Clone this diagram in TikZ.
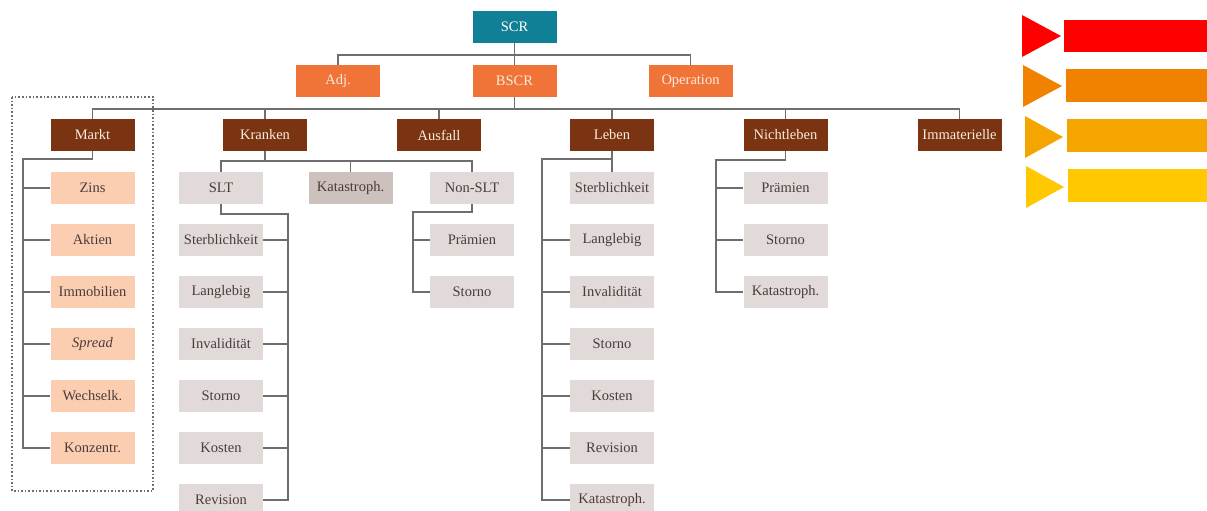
\documentclass[tikz,border=0pt]{standalone}
\usepackage{fontspec}
\setmainfont{Liberation Serif}
\definecolor{cteal}{RGB}{16,128,150}
\definecolor{corange}{RGB}{240,115,55}
\definecolor{cbrown}{RGB}{122,52,18}
\definecolor{cpeach}{RGB}{251,206,178}
\definecolor{cgrey}{RGB}{226,218,217}
\definecolor{cdgrey}{RGB}{205,193,190}
\definecolor{ctext}{RGB}{75,60,60}
\definecolor{ccream}{RGB}{250,236,222}
\definecolor{cline}{RGB}{110,110,110}
\definecolor{ar1}{RGB}{255,0,0}
\definecolor{ar2}{RGB}{240,130,0}
\definecolor{ar3}{RGB}{245,165,0}
\definecolor{ar4}{RGB}{255,200,0}
\tikzset{
  box/.style={minimum width=84pt, minimum height=32pt, inner sep=0pt, font=\fontsize{14.5}{16}\selectfont},
  topbox/.style={box, fill=cteal, text=white},
  orbox/.style={box, fill=corange, text=ccream},
  brbox/.style={box, fill=cbrown, text=ccream},
  pebox/.style={box, fill=cpeach, text=ctext},
  grbox/.style={box, fill=cgrey, text=ctext},
  dgbox/.style={box, fill=cdgrey, text=ctext},
  conn/.style={draw=cline, line width=1.5pt},
}
\begin{document}
\begin{tikzpicture}[x=1pt,y=-1pt]
\useasboundingbox (0,0) rectangle (1207,511);
% top
\node[topbox] (scr) at (514.5,27) {SCR};
\node[orbox] (adj) at (338,81) {Adj.};
\node[orbox] (bscr) at (514.5,81) {BSCR};
\node[orbox] (op) at (690.5,81) {Operation};
% categories
\node[brbox] (markt) at (92.5,135) {Markt};
\node[brbox] (kranken) at (265,135) {Kranken};
\node[brbox] (ausfall) at (439,135) {Ausfall};
\node[brbox] (leben) at (612,135) {Leben};
\node[brbox] (nleben) at (785.5,135) {Nichtleben};
\node[brbox] (immat) at (959.5,135) {Immaterielle};
% Markt children
\node[pebox] (m1) at (92.5,188) {Zins};
\node[pebox] (m2) at (92.5,240) {Aktien};
\node[pebox] (m3) at (92.5,292) {Immobilien};
\node[pebox] (m4) at (92.5,344) {\itshape Spread};
\node[pebox] (m5) at (92.5,396) {Wechselk.};
\node[pebox] (m6) at (92.5,448) {Konzentr.};
% Kranken
\node[grbox] (slt) at (221,188) {SLT};
\node[dgbox] (katk) at (350.5,188) {Katastroph.};
\node[grbox] (nonslt) at (472,188) {Non-SLT};
\node[grbox] (s1) at (221,240) {Sterblichkeit};
\node[grbox] (s2) at (221,292) {Langlebig};
\node[grbox] (s3) at (221,344) {Invalidität};
\node[grbox] (s4) at (221,396) {Storno};
\node[grbox] (s5) at (221,448) {Kosten};
\node[grbox] (s6) at (221,500) {Revision};
\node[grbox] (n1) at (472,240) {Prämien};
\node[grbox] (n2) at (472,292) {Storno};
% Leben
\node[grbox] (l1) at (612,188) {Sterblichkeit};
\node[grbox] (l2) at (612,240) {Langlebig};
\node[grbox] (l3) at (612,292) {Invalidität};
\node[grbox] (l4) at (612,344) {Storno};
\node[grbox] (l5) at (612,396) {Kosten};
\node[grbox] (l6) at (612,448) {Revision};
\node[grbox] (l7) at (612,500) {Katastroph.};
% Nichtleben
\node[grbox] (nl1) at (785.5,188) {Prämien};
\node[grbox] (nl2) at (785.5,240) {Storno};
\node[grbox] (nl3) at (785.5,292) {Katastroph.};
% dotted frame
\draw[cline, dotted, line width=1.6pt] (12,97) rectangle (153,491);
% connectors top
\draw[conn] (scr.south) -- (bscr.north);
\draw[conn] (adj.north) -- ++(0,-10) -| (op.north);
\draw[conn] (bscr.south) -- ++(0,12);
\draw[conn] (markt.north) -- ++(0,-10) -| (immat.north);
\foreach \n in {kranken,ausfall,leben,nleben} \draw[conn] (\n.north) -- ++(0,-10);
% Markt
\coordinate (mr) at (23,159);
\draw[conn] (markt.south) |- (mr) |- (m6.west);
\foreach \n in {m1,m2,m3,m4,m5} \draw[conn] (mr |- \n.west) -- (\n.west);
% Kranken
\draw[conn] (kranken.south) -- ++(0,10);
\draw[conn] (slt.north) -- ++(0,-11) -| (nonslt.north);
\draw[conn] (katk.north) -- ++(0,-11);
\coordinate (sr) at (288,214);
\draw[conn] (slt.south) |- (sr) |- (s6.east);
\foreach \n in {s1,s2,s3,s4,s5} \draw[conn] (sr |- \n.east) -- (\n.east);
\coordinate (nr) at (413,212);
\draw[conn] (nonslt.south) |- (nr) |- (n2.west);
\draw[conn] (nr |- n1.west) -- (n1.west);
% Leben
\coordinate (lr) at (542,159);
\draw[conn] (leben.south) -- (l1.north);
\draw[conn] (leben.south |- lr) -- (lr) |- (l7.west);
\foreach \n in {l2,l3,l4,l5,l6} \draw[conn] (lr |- \n.west) -- (\n.west);
% Nichtleben
\coordinate (nlr) at (716,160);
\draw[conn] (nleben.south) |- (nlr) |- (nl3.west);
\foreach \n in {nl1,nl2} \draw[conn] (nlr |- \n.west) -- (\n.west);
% right arrows legend
\fill[ar1] (1022,15) -- (1061,36) -- (1022,57) -- cycle;
\fill[ar1] (1064,20) rectangle (1207,52);
\fill[ar2] (1023,65) -- (1062,86) -- (1023,107) -- cycle;
\fill[ar2] (1066,69) rectangle (1207,102);
\fill[ar3] (1025,116) -- (1063,137) -- (1025,158) -- cycle;
\fill[ar3] (1067,119) rectangle (1207,152);
\fill[ar4] (1026,166) -- (1064,187) -- (1026,208) -- cycle;
\fill[ar4] (1068,169) rectangle (1207,202);
\end{tikzpicture}
\end{document}
